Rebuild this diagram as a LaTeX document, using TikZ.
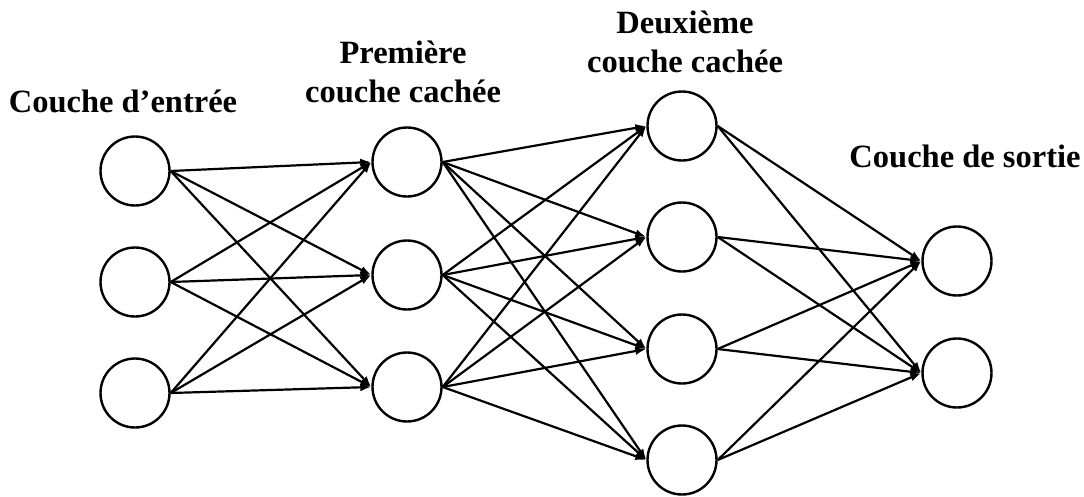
\documentclass[tikz,border=0pt]{standalone}
\usepackage{fontspec}
\setmainfont{Liberation Serif}
\usetikzlibrary{arrows.meta}
\begin{document}
\begin{tikzpicture}[x=1pt,y=-1pt,
  neuron/.style={circle,draw=black,line width=2.4pt,minimum size=69pt,inner sep=0pt,fill=white},
  conn/.style={line width=2.2pt,-{Latex[length=11pt,width=8pt]}},
  lbl/.style={anchor=base,inner sep=0pt,font=\fontsize{32.5}{39}\selectfont\bfseries}]
\useasboundingbox (0,0) rectangle (1084,496);
% input layer
\node[neuron] (i1) at (135,171) {};
\node[neuron] (i2) at (135,282) {};
\node[neuron] (i3) at (135,393) {};
% first hidden
\node[neuron] (a1) at (407,162) {};
\node[neuron] (a2) at (407,275) {};
\node[neuron] (a3) at (407,387) {};
% second hidden
\node[neuron] (b1) at (682,126) {};
\node[neuron] (b2) at (682,237) {};
\node[neuron] (b3) at (682,349) {};
\node[neuron] (b4) at (682,460) {};
% output
\node[neuron] (o1) at (957,261) {};
\node[neuron] (o2) at (957,373) {};
% connections
\foreach \s in {i1,i2,i3}{\foreach \t in {a1,a2,a3}{\draw[conn] (\s.east) -- (\t.west);}}
\foreach \s in {a1,a2,a3}{\foreach \t in {b1,b2,b3,b4}{\draw[conn] (\s.east) -- (\t.west);}}
\foreach \s in {b1,b2,b3,b4}{\foreach \t in {o1,o2}{\draw[conn] (\s.east) -- (\t.west);}}
% labels
\node[lbl] (l1) at (123,112) {Couche d’entrée};
\node[lbl] (l2a) at (403,63) {Première};
\node[lbl] (l2b) at (403,102) {couche cachée};
\node[lbl] (l3a) at (685,33) {Deuxième};
\node[lbl] (l3b) at (685,72) {couche cachée};
\node[lbl] (l4) at (965,167) {Couche de sortie};
\end{tikzpicture}
\end{document}
